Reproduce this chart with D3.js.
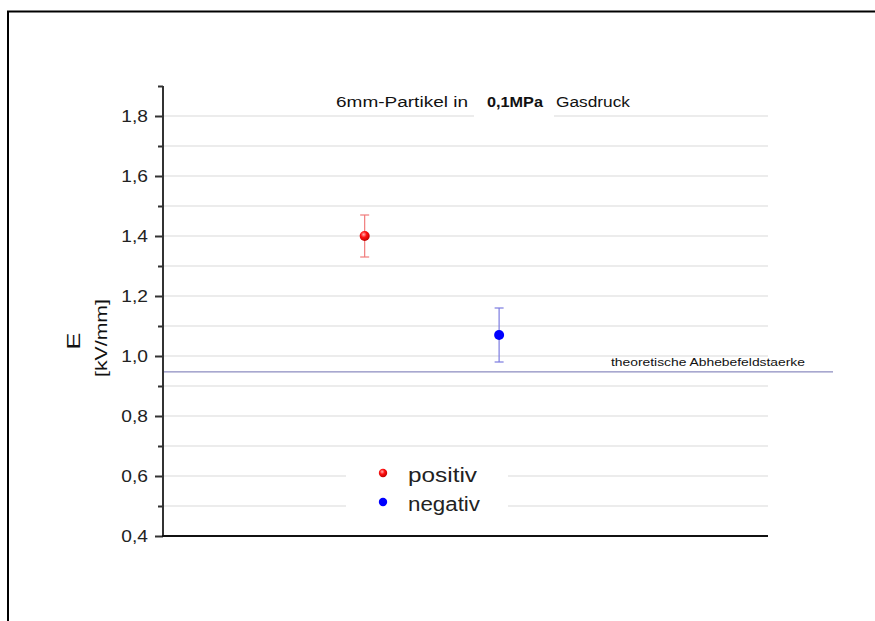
<!DOCTYPE html>
<html>
<head>
<meta charset="utf-8">
<script src="https://cdn.jsdelivr.net/npm/d3@7"></script>
<style>
  html, body { margin: 0; padding: 0; background: #fff; }
  svg { display: block; font-family: Arial, "Liberation Sans", sans-serif; }
</style>
</head>
<body>
<svg id="chart" width="875" height="621"></svg>
<script>
// Measured field strengths (kV/mm) for the two particle polarities
const categories = ["positiv", "negativ"];
const xPositions = [1.5, 2.5];
const values = [1.40, 1.07];
const errors = [0.07, 0.09];
const colors = ["#ff0000", "#0000ff"];
const errorColors = ["#f07c7c", "#7c7ce0"];
const theoreticalValue = 0.947;
const yTicks = [0.4, 0.6, 0.8, 1.0, 1.2, 1.4, 1.6, 1.8];
const yMinorTicks = [0.5, 0.7, 0.9, 1.1, 1.3, 1.5, 1.7, 1.9];

const svg = d3.select("#chart");
const stretch = 1.2; // text in this figure is drawn slightly wide

// Outer frame
svg.append("path")
  .attr("d", "M8,621 V11.5 H875")
  .attr("fill", "none").attr("stroke", "#000").attr("stroke-width", 2);

const left = 163, right = 768;
const x = d3.scaleLinear().domain([0, 4.5]).range([left, right]);
const y = d3.scaleLinear().domain([0.4, 1.9]).range([536, 86]);

const fmt = d => d3.format(".1f")(d).replace(".", ",");

// Grid lines at every 0.1 step
const gridVals = yTicks.concat(yMinorTicks).filter(v => v > 0.4 && v < 1.85);
svg.append("g").selectAll("line").data(gridVals).join("line")
  .attr("x1", left).attr("x2", right)
  .attr("y1", d => y(d)).attr("y2", d => y(d))
  .attr("stroke", "#e6e6e6").attr("stroke-width", 1.5);

// Title
svg.append("rect").attr("x", 474).attr("y", 92).attr("width", 80).attr("height", 26).attr("fill", "#fff");
svg.append("text").attr("x", 336).attr("y", 107).attr("font-size", 15.5).attr("fill", "#111")
  .attr("textLength", 132).attr("lengthAdjust", "spacingAndGlyphs").text("6mm-Partikel in");
svg.append("text").attr("x", 487).attr("y", 107).attr("font-size", 14).attr("font-weight", "bold").attr("fill", "#111")
  .attr("textLength", 56).attr("lengthAdjust", "spacingAndGlyphs").text("0,1MPa");
svg.append("text").attr("x", 556).attr("y", 107).attr("font-size", 15.5).attr("fill", "#111")
  .attr("textLength", 74).attr("lengthAdjust", "spacingAndGlyphs").text("Gasdruck");

// Theoretical lift-off field strength
svg.append("line")
  .attr("x1", left).attr("x2", 833)
  .attr("y1", y(theoreticalValue)).attr("y2", y(theoreticalValue))
  .attr("stroke", "#7070b0").attr("stroke-width", 1);
svg.append("text")
  .attr("x", 611).attr("y", y(theoreticalValue) - 5.5)
  .attr("font-size", 11.5).attr("fill", "#111")
  .attr("textLength", 194).attr("lengthAdjust", "spacingAndGlyphs")
  .text("theoretische Abhebefeldstaerke");

// Legend background
svg.append("rect").attr("x", 346).attr("y", 460).attr("width", 162).attr("height", 58).attr("fill", "#fff");

// Y axis
const yAxis = d3.axisLeft(y).tickValues(yTicks).tickFormat(fmt).tickSize(8).tickSizeOuter(0);
const gy = svg.append("g").attr("transform", `translate(${left},0)`).call(yAxis);
gy.select(".domain").attr("stroke", "#333").attr("stroke-width", 2)
  .attr("d", `M0,${y(1.9)}V${y(0.4)}`);
gy.selectAll(".tick line").attr("stroke", "#333").attr("stroke-width", 2);
gy.selectAll(".tick text").attr("font-size", 16).attr("fill", "#222")
  .attr("x", -15 / stretch).attr("transform", `scale(${stretch},1)`)
  .attr("font-family", "Arial, 'Liberation Sans', sans-serif");

const yMinor = d3.axisLeft(y).tickValues(yMinorTicks).tickFormat("").tickSize(5).tickSizeOuter(0);
const gym = svg.append("g").attr("transform", `translate(${left},0)`).call(yMinor);
gym.select(".domain").remove();
gym.selectAll(".tick line").attr("stroke", "#333").attr("stroke-width", 2);

// X axis (no labels)
svg.append("line").attr("x1", left - 1).attr("x2", right)
  .attr("y1", y(0.4)).attr("y2", y(0.4))
  .attr("stroke", "#111").attr("stroke-width", 2);

// Y axis title
svg.append("text")
  .attr("transform", `translate(80,341) rotate(-90) scale(1.45,1)`)
  .attr("text-anchor", "middle").attr("font-size", 17.5).attr("fill", "#111").text("E");
svg.append("text")
  .attr("transform", `translate(107,338) rotate(-90)`)
  .attr("x", -39).attr("font-size", 17).attr("fill", "#111")
  .attr("textLength", 78).attr("lengthAdjust", "spacingAndGlyphs").text("[kV/mm]");

// Gradient for the red marker
const defs = svg.append("defs");
const grad = defs.append("radialGradient").attr("id", "redBall")
  .attr("cx", "40%").attr("cy", "35%").attr("r", "65%");
grad.append("stop").attr("offset", "0%").attr("stop-color", "#ffb0b0");
grad.append("stop").attr("offset", "45%").attr("stop-color", "#ff1010");
grad.append("stop").attr("offset", "100%").attr("stop-color", "#c00000");

const data = categories.map((c, i) => ({ c, x: xPositions[i], v: values[i], e: errors[i], col: colors[i], ecol: errorColors[i] }));

// Error bars
const eb = svg.append("g").selectAll("g").data(data).join("g");
eb.append("line")
  .attr("x1", d => x(d.x)).attr("x2", d => x(d.x))
  .attr("y1", d => y(d.v + d.e)).attr("y2", d => y(d.v - d.e))
  .attr("stroke", d => d.ecol).attr("stroke-width", 1.2);
eb.selectAll("line.cap").data(d => [d.v + d.e, d.v - d.e].map(v => ({ ...d, yv: v }))).join("line")
  .attr("class", "cap")
  .attr("x1", d => x(d.x) - 4.5).attr("x2", d => x(d.x) + 4.5)
  .attr("y1", d => y(d.yv)).attr("y2", d => y(d.yv))
  .attr("stroke", d => d.ecol).attr("stroke-width", 1.2);

// Points
svg.append("g").selectAll("circle").data(data).join("circle")
  .attr("cx", d => x(d.x)).attr("cy", d => y(d.v)).attr("r", 5)
  .attr("fill", (d, i) => i === 0 ? "url(#redBall)" : d.col);

// Legend entries
const legendLen = [69, 72];
const lg = svg.append("g").selectAll("g").data(data).join("g")
  .attr("transform", (d, i) => `translate(383,${473 + i * 29})`);
lg.append("circle").attr("r", 4.2).attr("fill", (d, i) => i === 0 ? "url(#redBall)" : d.col);
lg.append("text").attr("x", 25).attr("y", 9.3).attr("font-size", 20).attr("fill", "#222")
  .attr("textLength", (d, i) => legendLen[i]).attr("lengthAdjust", "spacingAndGlyphs")
  .text(d => d.c);
</script>
</body>
</html>
